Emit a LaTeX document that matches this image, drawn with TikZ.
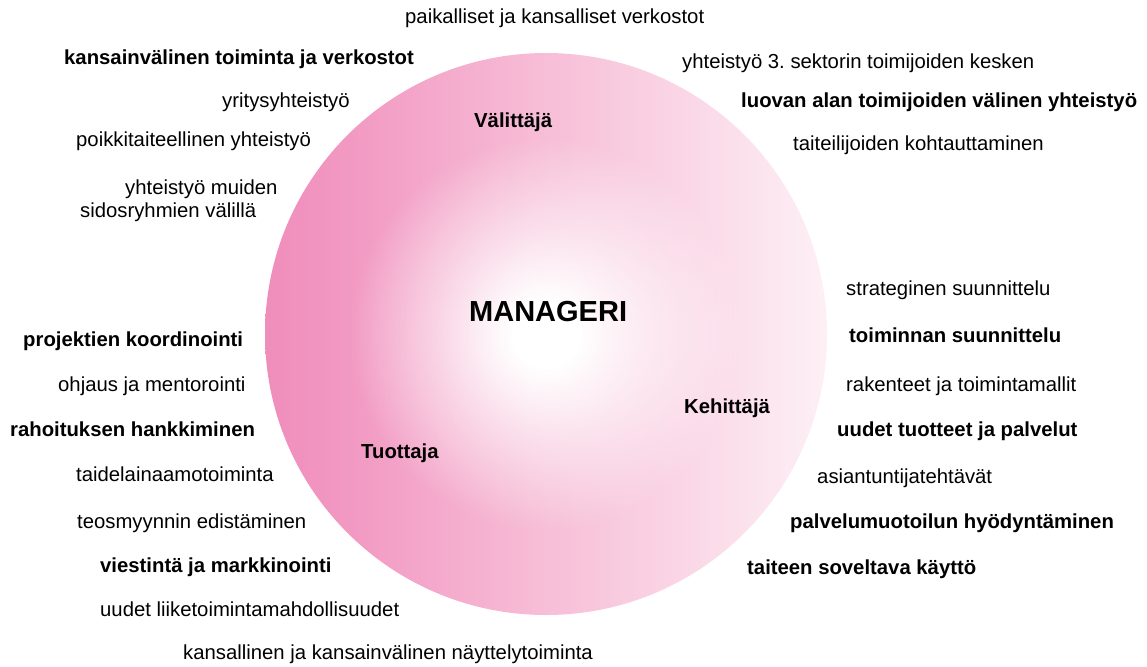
\documentclass[tikz,border=0pt]{standalone}
\usepackage{fontspec}
\setmainfont{Liberation Sans}
\usetikzlibrary{fadings}
\definecolor{pkL}{RGB}{240,141,187}
\definecolor{pkA}{RGB}{242,154,195}
\definecolor{pkM}{RGB}{247,190,215}
\definecolor{pkR}{RGB}{253,240,245}
\pgfdeclarehorizontalshading{basepink}{100bp}{color(0bp)=(pkL); color(25bp)=(pkL); color(33bp)=(pkA); color(50bp)=(pkM); color(75bp)=(pkR); color(100bp)=(pkR)}
\pgfdeclareradialshading{coreshade}{\pgfpointorigin}{color(0bp)=(pgftransparent!0); color(3bp)=(pgftransparent!0); color(9bp)=(pgftransparent!45); color(17.5bp)=(pgftransparent!100); color(50bp)=(pgftransparent!100)}
\pgfdeclarefading{corefade}{\pgfuseshading{coreshade}}
\tikzset{
  lbl/.style={anchor=base west, inner sep=0pt, font=\fontsize{20.3}{23}\selectfont},
  blbl/.style={lbl, font=\fontsize{20.3}{23}\selectfont\bfseries},
  role/.style={blbl},
  title/.style={anchor=base west, inner sep=0pt, font=\fontsize{29}{32}\selectfont\bfseries}
}
\frenchspacing
\begin{document}
\begin{tikzpicture}[x=1pt,y=-1pt]
\useasboundingbox (0,0) rectangle (1147,666);
\coordinate (c) at (546,334);
\shade[shading=basepink] (c) circle (281);
\fill[white, path fading=corefade] (c) circle (281);
% centre and roles
\node[title] (mgr) at (469,321) {MANAGERI};
\node[role] (val) at (474,127) {Välittäjä};
\node[role] (tuo) at (361,458) {Tuottaja};
\node[role] (keh) at (684,413) {Kehittäjä};
% top and upper left
\node[lbl] (t1) at (405,24) {paikalliset ja kansalliset verkostot};
\node[blbl] (t2) at (64,65) {kansainvälinen toiminta ja verkostot};
\node[lbl] (t3) at (222,108) {yritysyhteistyö};
\node[lbl] (t4) at (76,146) {poikkitaiteellinen yhteistyö};
\node[lbl] (t5) at (125,194) {yhteistyö muiden};
\node[lbl] (t6) at (80,217) {sidosryhmien välillä};
% upper right
\node[lbl] (u1) at (682,69) {yhteistyö 3. sektorin toimijoiden kesken};
\node[blbl] (u2) at (741,108) {luovan alan toimijoiden välinen yhteistyö};
\node[lbl] (u3) at (793,150) {taiteilijoiden kohtauttaminen};
% right
\node[lbl] (r1) at (846,295) {strateginen suunnittelu};
\node[blbl] (r2) at (849,342) {toiminnan suunnittelu};
\node[lbl] (r3) at (846,391) {rakenteet ja toimintamallit};
\node[blbl] (r4) at (837,436) {uudet tuotteet ja palvelut};
\node[lbl] (r5) at (817,483) {asiantuntijatehtävät};
\node[blbl] (r6) at (790,528) {palvelumuotoilun hyödyntäminen};
\node[blbl] (r7) at (747,574) {taiteen soveltava käyttö};
% left
\node[blbl] (l1) at (23,346) {projektien koordinointi};
\node[lbl] (l2) at (58,391) {ohjaus ja mentorointi};
\node[blbl] (l3) at (10,436) {rahoituksen hankkiminen};
\node[lbl] (l4) at (76,481) {taidelainaamotoiminta};
\node[lbl] (l5) at (77,528) {teosmyynnin edistäminen};
\node[blbl] (l6) at (100,572) {viestintä ja markkinointi};
\node[lbl] (l7) at (100,616) {uudet liiketoimintamahdollisuudet};
\node[lbl] (l8) at (183,659) {kansallinen ja kansainvälinen näyttelytoiminta};
\end{tikzpicture}
\end{document}
